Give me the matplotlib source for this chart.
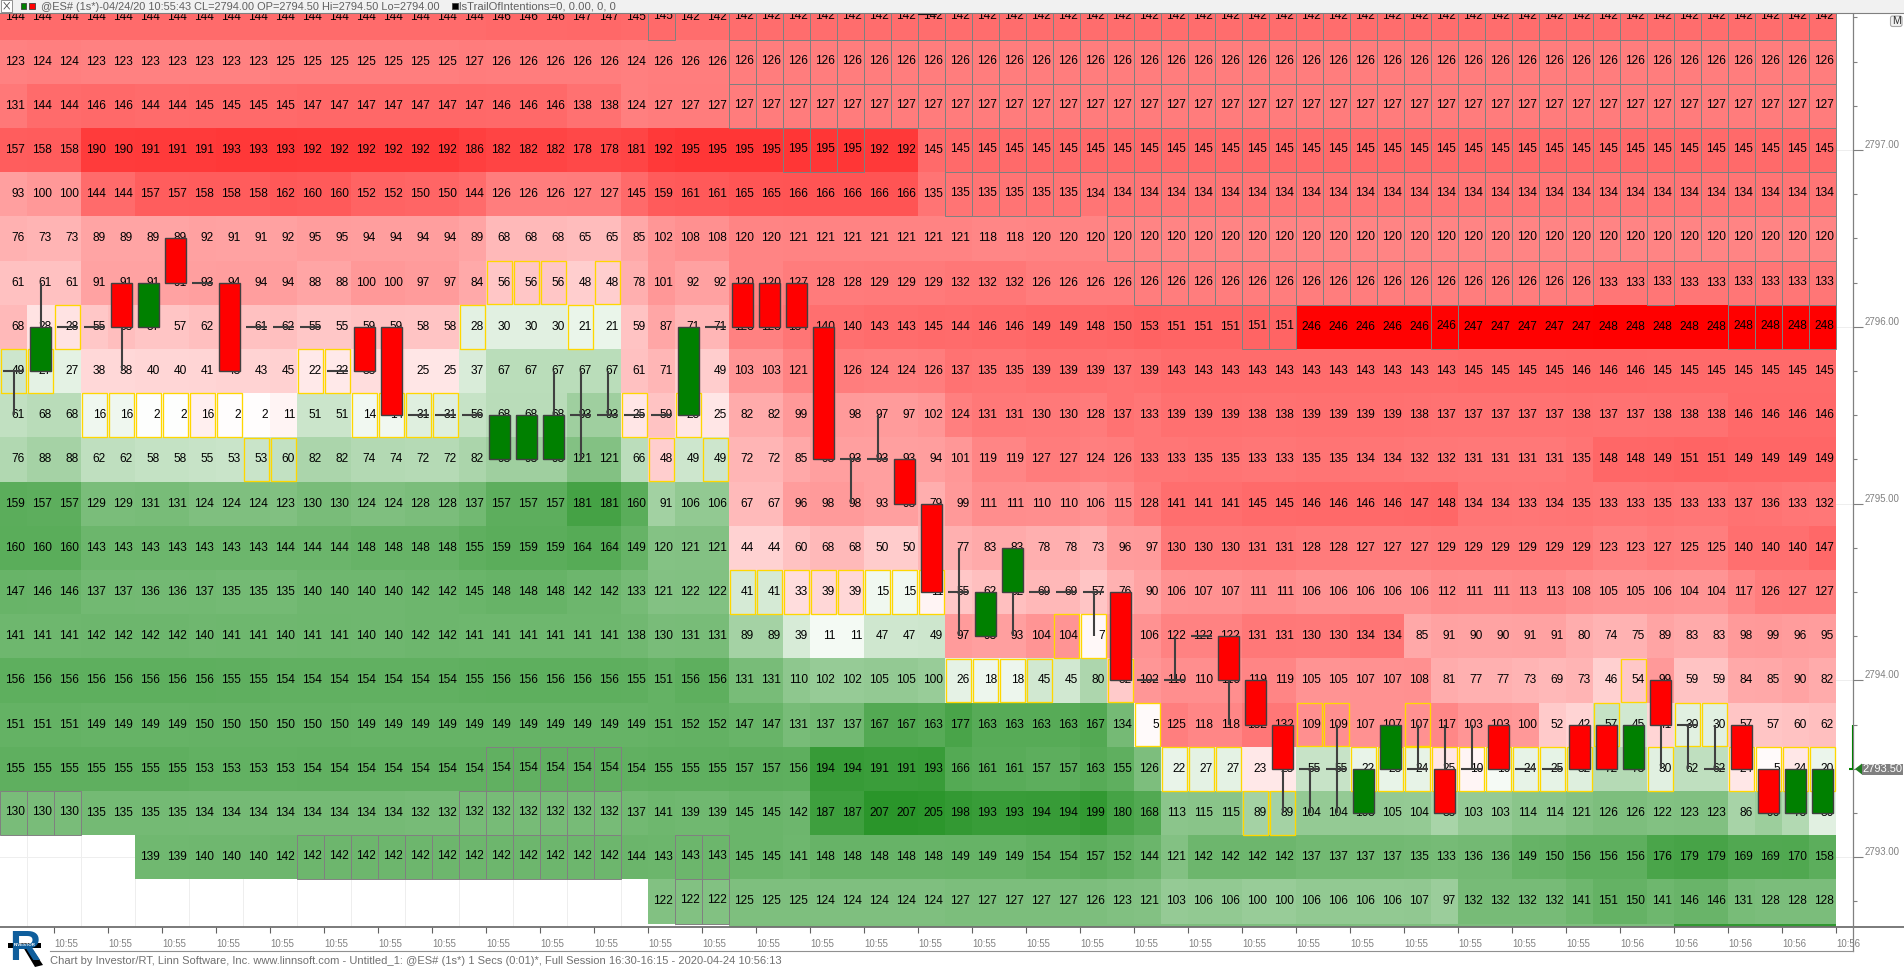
import matplotlib
matplotlib.use("Agg")
import matplotlib.pyplot as plt
from matplotlib.colors import LinearSegmentedColormap
from matplotlib.patches import Rectangle, Polygon, FancyBboxPatch
import numpy as np

n = np.nan

# volume per price level, top row is 2797.75, one row per 0.25
row00 = [144,144,144,144,144,144,144,144,144,144,144,144,144,144,144,144,144,144,146,146,146,147,147,145,
         145,142,142,142,142,142,142,142,142,142,142,142,142,142,142,142,142,142,142,142,142,142,142,
         142,142,142,142,142,142,142,142,142,142,142,142,142,142,142,142,142,142,142,142,142]
row01 = [123,124,124,123,123,123,123,123,123,123,125,125,125,125,125,125,125,127,126,126,126,126,126,124,
         126,126,126,126,126,126,126,126,126,126,126,126,126,126,126,126,126,126,126,126,126,126,126,
         126,126,126,126,126,126,126,126,126,126,126,126,126,126,126,126,126,126,126,126,126]
row02 = [131,144,144,146,146,144,144,145,145,145,145,147,147,147,147,147,147,147,146,146,146,138,138,124,
         127,127,127,127,127,127,127,127,127,127,127,127,127,127,127,127,127,127,127,127,127,127,127,
         127,127,127,127,127,127,127,127,127,127,127,127,127,127,127,127,127,127,127,127,127]
row03 = [157,158,158,190,190,191,191,191,193,193,193,192,192,192,192,192,192,186,182,182,182,178,178,181,
         192,195,195,195,195,195,195,195,192,192,145,145,145,145,145,145,145,145,145,145,145,145,145,
         145,145,145,145,145,145,145,145,145,145,145,145,145,145,145,145,145,145,145,145,145]
row04 = [93,100,100,144,144,157,157,158,158,158,162,160,160,152,152,150,150,144,126,126,126,127,127,145,
         159,161,161,165,165,166,166,166,166,166,135,135,135,135,135,135,134,134,134,134,134,134,134,
         134,134,134,134,134,134,134,134,134,134,134,134,134,134,134,134,134,134,134,134,134]
row05 = [76,73,73,89,89,89,89,92,91,91,92,95,95,94,94,94,94,89,68,68,68,65,65,85,
         102,108,108,120,120,121,121,121,121,121,121,121,118,118,120,120,120,120,120,120,120,120,120,
         120,120,120,120,120,120,120,120,120,120,120,120,120,120,120,120,120,120,120,120,120]
row06 = [61,61,61,91,91,91,91,93,94,94,94,88,88,100,100,97,97,84,56,56,56,48,48,78,
         101,92,92,120,120,127,128,128,129,129,129,132,132,132,126,126,126,126,126,126,126,126,126,
         126,126,126,126,126,126,126,126,126,126,126,126,133,133,133,133,133,133,133,133,133]
row07 = [68,28,28,55,63,57,57,62,62,61,62,55,55,59,59,58,58,28,30,30,30,21,21,59,
         87,71,71,123,123,134,140,140,143,143,145,144,146,146,149,149,148,150,153,151,151,151,151,
         151,246,246,246,246,246,246,247,247,247,247,247,248,248,248,248,248,248,248,248,248]
row08 = [49,27,27,38,38,40,40,41,43,43,45,22,22,33,33,25,25,37,67,67,67,67,67,61,
         71,49,49,103,103,121,121,126,124,124,126,137,135,135,139,139,139,137,139,143,143,143,143,
         143,143,143,143,143,143,143,145,145,145,145,146,146,146,145,145,145,145,145,145,145]
row09 = [61,68,68,16,16,2,2,16,2,2,11,51,51,14,14,31,31,56,68,68,68,93,93,25,
         59,25,25,82,82,99,98,98,97,97,102,124,131,131,130,130,128,137,133,139,139,139,138,
         138,139,139,139,139,138,137,137,137,137,137,138,137,137,138,138,138,146,146,146,146]
row10 = [76,88,88,62,62,58,58,55,53,53,60,82,82,74,74,72,72,82,93,93,93,121,121,66,
         48,49,49,72,72,85,93,93,93,93,94,101,119,119,127,127,124,126,133,133,135,135,133,
         133,135,135,134,134,132,132,131,131,131,131,135,148,148,149,151,151,149,149,149,149]
row11 = [159,157,157,129,129,131,131,124,124,124,123,130,130,124,124,128,128,137,157,157,157,181,181,160,
         91,106,106,67,67,96,98,98,93,93,79,99,111,111,110,110,106,115,128,141,141,141,145,
         145,146,146,146,146,147,148,134,134,133,134,135,133,133,135,133,133,137,136,133,132]
row12 = [160,160,160,143,143,143,143,143,143,143,144,144,144,148,148,148,148,155,159,159,159,164,164,149,
         120,121,121,44,44,60,68,68,50,50,70,77,83,83,78,78,73,96,97,130,130,130,131,
         131,128,128,127,127,127,129,129,129,129,129,129,123,123,127,125,125,140,140,140,147]
row13 = [147,146,146,137,137,136,136,137,135,135,135,140,140,140,140,142,142,145,148,148,148,142,142,133,
         121,122,122,41,41,33,39,39,15,15,11,55,62,62,69,69,57,76,90,106,107,107,111,
         111,106,106,106,106,106,112,111,111,113,113,108,105,105,106,104,104,117,126,127,127]
row14 = [141,141,141,142,142,142,142,140,141,141,140,141,141,140,140,142,142,141,141,141,141,141,141,138,
         130,131,131,89,89,39,11,11,47,47,49,97,93,93,104,104,7,97,106,122,122,122,131,
         131,130,130,134,134,85,91,90,90,91,91,80,74,75,89,83,83,98,99,96,95]
row15 = [156,156,156,156,156,156,156,156,155,155,154,154,154,154,154,154,154,155,156,156,156,156,156,155,
         151,156,156,131,131,110,102,102,105,105,100,26,18,18,45,45,80,52,102,110,110,110,119,
         119,105,105,107,107,108,81,77,77,73,69,73,46,54,99,59,59,84,85,90,82]
row16 = [151,151,151,149,149,149,149,150,150,150,150,150,150,149,149,149,149,149,149,149,149,149,149,149,
         151,152,152,147,147,131,137,137,167,167,163,177,163,163,163,163,167,134,5,125,118,118,132,
         132,109,109,107,107,107,117,103,103,100,52,42,57,45,41,30,30,57,57,60,62]
row17 = [155,155,155,155,155,155,155,153,153,153,153,154,154,154,154,154,154,154,154,154,154,154,154,154,
         155,155,155,157,157,156,194,194,191,191,193,166,161,161,157,157,163,155,126,22,27,27,23,
         23,55,55,22,23,24,25,10,10,24,25,32,72,73,30,62,62,24,5,24,20]
row18 = [130,130,130,135,135,135,135,134,134,134,134,134,134,134,134,132,132,132,132,132,132,132,132,137,
         141,139,139,145,145,142,187,187,207,207,205,198,193,193,194,194,199,180,168,113,115,115,89,
         89,104,104,105,105,104,85,103,103,114,114,121,126,126,122,123,123,86,96,75,30]
row19 = [n,n,n,n,n,139,139,140,140,140,142,142,142,142,142,142,142,142,142,142,142,142,142,144,
         143,143,143,145,145,141,148,148,148,148,148,149,149,149,154,154,157,152,144,121,142,142,142,
         142,137,137,137,137,135,133,136,136,149,150,156,156,156,176,179,179,169,169,170,158]
row20 = [n,n,n,n,n,n,n,n,n,n,n,n,n,n,n,n,n,n,n,n,n,n,n,n,
         122,122,122,125,125,125,124,124,124,124,124,127,127,127,127,127,126,123,121,103,106,106,100,
         100,106,106,106,106,107,97,132,132,132,132,141,151,150,141,146,146,131,128,128,128]
# next level down, only a sliver of it is on screen so no numbers are drawn
row21 = [n,n,n,n,n,n,n,n,n,n,n,n,n,n,n,n,n,n,n,n,n,n,n,n,
         n,n,n,126,126,126,126,126,126,126,126,126,126,126,126,126,126,126,126,126,126,126,126,
         126,126,126,126,126,126,126,126,126,126,126,126,126,126,126,200,200,200,200,200,200]

# first row in each column that is on the bid (green) side
first_bid_row = [8,8,8,9,9,9,9,10,10,10,10,9,9,9,9,9,9,7,7,7,7,7,7,10,
                 11,10,10,13,13,14,14,14,13,13,14,15,15,15,15,15,15,16,17,17,17,17,18,
                 18,17,17,17,17,17,18,18,17,17,17,17,16,16,17,16,16,18,18,18,17]

# 1 sec bars, price minus 2700
bar_open = [95.75,95.75,96.00,96.00,96.25,96.00,96.50,96.25,96.25,96.00,96.00,96.00,95.75,96.00,96.00,95.50,95.50,95.50,
            95.25,95.25,95.25,95.50,95.50,95.50,95.50,95.50,96.00,96.25,96.25,96.25,96.00,95.25,95.25,95.25,95.00,
            94.50,94.25,94.50,94.50,94.50,94.50,94.50,94.00,94.00,94.25,94.25,94.00,93.75,93.50,93.50,93.25,93.50,
            93.50,93.50,93.50,93.75,93.50,93.50,93.75,93.75,93.50,94.00,93.75,93.50,93.75,93.50,93.25,93.25]
bar_close = [95.75,96.00,96.00,96.00,96.00,96.25,96.25,96.25,95.75,96.00,96.00,96.00,95.75,95.75,95.50,95.50,95.50,95.50,
             95.50,95.50,95.50,95.50,95.50,95.50,95.50,96.00,96.00,96.00,96.00,96.00,95.25,95.25,95.25,95.00,94.50,
             94.50,94.50,94.75,94.50,94.50,94.50,94.00,94.00,94.00,94.25,94.00,93.75,93.50,93.50,93.50,93.50,93.75,
             93.50,93.25,93.50,93.50,93.50,93.50,93.50,93.50,93.75,93.75,93.75,93.50,93.50,93.25,93.50,93.50]
bar_high = [95.75,96.25,96.00,96.00,96.25,96.25,96.50,96.25,96.25,96.00,96.00,96.00,95.75,96.00,96.00,95.50,95.50,95.50,
            95.50,95.50,95.75,95.75,95.75,95.50,95.50,96.00,96.00,96.25,96.25,96.25,96.00,95.25,95.50,95.25,95.00,
            94.75,94.50,94.75,94.50,94.50,94.50,94.50,94.00,94.25,94.25,94.25,94.00,93.75,93.50,93.75,93.50,93.75,
            93.75,93.75,93.75,93.75,93.50,93.50,93.75,93.75,93.75,94.00,93.75,93.75,93.75,93.50,93.50,93.50]
bar_low = [95.50,95.75,96.00,96.00,95.75,96.00,96.25,96.25,95.75,96.00,96.00,96.00,95.75,95.75,95.50,95.50,95.50,95.50,
           95.25,95.25,95.25,95.25,95.50,95.50,95.50,95.50,96.00,96.00,96.00,96.00,95.25,95.00,95.25,95.00,94.50,
           94.25,94.25,94.25,94.50,94.50,94.25,94.00,94.00,94.00,94.25,93.75,93.75,93.25,93.25,93.25,93.25,93.50,
           93.50,93.25,93.50,93.50,93.50,93.50,93.50,93.50,93.50,93.50,93.50,93.50,93.50,93.25,93.25,93.25]

# the bar still forming, right of the last column
last_high = 93.75
last_close = 93.50
top_dash_col = 34
top_dash_price = 97.77

# (row, first col, last col)
grey_boxes = [(0,24,24),(0,27,67),(1,27,67),(2,27,67),(3,29,31),(3,35,67),(4,35,39),(4,41,67),(5,41,67),
              (6,42,58),(6,61,61),(6,64,67),(7,46,47),(7,53,53),(7,64,67),(17,18,22),(18,0,2),(18,17,22),
              (19,11,22),(19,25,26),(20,25,26)]
yellow_boxes = [(6,18,20),(6,22,22),(7,2,2),(7,17,17),(7,21,21),(8,0,1),(8,11,12),(9,3,8),(9,13,16),(9,23,23),
                (9,25,25),(10,9,10),(10,24,24),(10,26,26),(13,27,34),(14,39,40),(15,35,38),(15,41,41),(15,60,60),
                (16,42,42),(16,48,49),(16,52,52),(16,59,59),(16,62,63),(17,43,45),(17,50,58),(17,61,61),(17,64,67),
                (18,46,47)]

tick_labels = ["10:55","10:55","10:55","10:55","10:55","10:55","10:55","10:55","10:55","10:55","10:55","10:55",
               "10:55","10:55","10:55","10:55","10:55","10:55","10:55","10:55","10:55","10:55","10:55","10:55",
               "10:55","10:55","10:55","10:55","10:55","10:56","10:56","10:56","10:56","10:56"]
price_labels = ["2797.00","2796.00","2795.00","2794.00","2793.00"]

title_text = "@ES# (1s*)-04/24/20 10:55:43 CL=2794.00 OP=2794.50 Hi=2794.50 Lo=2794.00"
study_text = "lsTrailOfIntentions=0, 0.00, 0, 0"
footer_text = ("Chart by Investor/RT, Linn Software, Inc. www.linnsoft.com - Untitled_1: @ES# (1s*) 1 Secs (0:01)*, "
               "Full Session 16:30-16:15 - 2020-04-24 10:56:13")

plt.rcParams['font.family'] = ['Liberation Sans', 'DejaVu Sans']

W, H = 1904, 968
COL_W = 27.0
PX_PER_PT = 176.8   # pixels per one point of price
AX_TOP, AX_BOT, AX_RIGHT = 13.0, 926.5, 1853.0

rows = [row00,row01,row02,row03,row04,row05,row06,row07,row08,row09,row10,
        row11,row12,row13,row14,row15,row16,row17,row18,row19,row20,row21]
vol = np.array(rows, dtype=float)
n_rows, n_cols = vol.shape
row_price = 97.75 - 0.25 * np.arange(n_rows)
y_edges = 97.875 - 0.25 * np.arange(n_rows + 1)
x_edges = np.arange(n_cols + 1)

is_bid = np.array([[r >= first_bid_row[c] for c in range(n_cols)] for r in range(n_rows)])

fig = plt.figure(figsize=(W / 100, H / 100), dpi=100, facecolor="white")
ax = fig.add_axes([0, (H - AX_BOT) / H, AX_RIGHT / W, (AX_BOT - AX_TOP) / H])
ax.set_xlim(0, AX_RIGHT / COL_W)
ax.set_ylim(97 - (AX_BOT - 150) / PX_PER_PT, 97 + (150 - AX_TOP) / PX_PER_PT)
ax.set_axisbelow(True)

# heat map, ask side red, bid side green
ask_cmap = LinearSegmentedColormap.from_list("ask", ["#FFFFFF", "#FF0000"])
bid_cmap = LinearSegmentedColormap.from_list("bid", ["#FFFFFF", "#008000"])
ask_vol = np.ma.masked_where(is_bid | np.isnan(vol), vol)
bid_vol = np.ma.masked_where(~is_bid | np.isnan(vol), vol)
ax.pcolormesh(x_edges, y_edges, ask_vol, cmap=ask_cmap, vmin=0, vmax=248, antialiased=False, linewidth=0, zorder=1)
ax.pcolormesh(x_edges, y_edges, bid_vol, cmap=bid_cmap, vmin=0, vmax=248, antialiased=False, linewidth=0, zorder=1)

# boxes
boxed = set()
for r, c0, c1 in grey_boxes:
    for c in range(c0, c1 + 1):
        boxed.add((r, c))
        ax.add_patch(Rectangle((c, y_edges[r + 1]), 1, 0.25, fill=False, edgecolor="#808080", lw=0.7, zorder=2))
for r, c0, c1 in yellow_boxes:
    for c in range(c0, c1 + 1):
        ax.add_patch(Rectangle((c + 0.02, y_edges[r + 1] + 0.002), 0.96, 0.246, fill=False, edgecolor="#FFD700",
                               lw=0.95, zorder=2.5))

# cell numbers
for r in range(n_rows - 1):
    for c in range(n_cols):
        if np.isnan(vol[r, c]):
            continue
        lift = 1.0 / PX_PER_PT if (r, c) in boxed else 0
        ax.text(c + 1 - 2 / COL_W, row_price[r] + lift, str(int(vol[r, c])), ha="right", va="center",
                fontsize=8.6, color="#000000", zorder=3)

# bars
centers = np.arange(n_cols) + 0.5
bar_w = 20.7 / COL_W
edge = "#404040"
ax.vlines(centers, bar_low, bar_high, color=edge, lw=1.5, zorder=4)
for c in range(n_cols):
    o, cl = bar_open[c], bar_close[c]
    if o == cl:
        ax.hlines(o, centers[c] - bar_w / 2, centers[c] + bar_w / 2, color=edge, lw=1.5, zorder=4)
    else:
        col = "#008000" if cl > o else "#FF0000"
        ax.bar(centers[c], abs(cl - o), bottom=min(o, cl), width=bar_w, color=col, edgecolor=edge, lw=1.0, zorder=5)
ax.hlines(top_dash_price, top_dash_col, top_dash_col + 0.72, color="#101010", lw=1.5, zorder=5)

# forming bar
ax.vlines(68.62, last_close, last_high, color="#008000", lw=1.5, zorder=4)
ax.hlines(last_close, 68.48, 68.62, color="#008000", lw=1.5, zorder=4)

# axes
ax.set_xticks(np.arange(2, 70, 2), tick_labels, ha="left", fontsize=6.9, color="#808080")
ax.set_xticks(np.arange(1, 68, 2), minor=True)
ax.tick_params(axis="x", which="major", length=4.5, width=0.8, color="#606060", pad=4.5)
ax.tick_params(axis="x", which="minor", length=0)
ax.grid(axis="x", which="minor", color="#EEEEEE", lw=0.7)
ax.yaxis.tick_right()
ax.set_yticks([97, 96, 95, 94, 93], price_labels, fontsize=6.9, color="#808080", va="bottom")
ax.set_yticks(row_price[:-1], minor=True)
ax.tick_params(axis="y", which="major", length=7.4, width=0.8, color="#808080", pad=0.8)
ax.tick_params(axis="y", which="minor", length=3, width=0.8, color="#808080")
ax.grid(axis="y", which="major", color="#EEEEEE", lw=0.7)
for s in ["top", "left", "bottom"]:
    ax.spines[s].set_visible(False)
ax.spines["right"].set_color("#808080")
ax.spines["right"].set_linewidth(0.9)

# window chrome on a pixel overlay
ui = fig.add_axes([0, 0, 1, 1], zorder=10)
ui.set_xlim(0, W)
ui.set_ylim(H, 0)
ui.axis("off")

ui.add_patch(Rectangle((0, 0), W, 13, facecolor="#F1F1F1", edgecolor="none"))
ui.plot([0, W], [13.3, 13.3], color="#808080", lw=0.8)
ui.add_patch(Rectangle((1, 0), 11, 11.5, facecolor="white", edgecolor="#909090", lw=0.7))
ui.plot([4, 9.5], [2.5, 9], color="#505050", lw=0.6)
ui.plot([4, 9.5], [9, 2.5], color="#505050", lw=0.6)
ui.add_patch(Rectangle((20.5, 3), 5.5, 6, facecolor="#008000", edgecolor="#404040", lw=0.6))
ui.add_patch(Rectangle((29, 3), 5.5, 6, facecolor="#FF0000", edgecolor="#404040", lw=0.6))
ui.add_patch(Rectangle((452, 3), 5.5, 6, facecolor="#000000", edgecolor="#404040", lw=0.6))
ui.text(41, 6.8, title_text, fontsize=7.9, color="#606060", va="center", ha="left")
ui.text(459, 6.8, study_text, fontsize=8.1, color="#606060", va="center", ha="left")

ui.add_patch(FancyBboxPatch((1890.5, 16), 11.5, 10.5, boxstyle="round,pad=0,rounding_size=2", facecolor="#F0F0F0",
                            edgecolor="#A8A8A8", lw=0.8))
ui.text(1896.3, 21.3, "M", fontsize=7.5, color="#303030", ha="center", va="center")

# price flag
ui.add_patch(Polygon([[1855, 769], [1862, 763.5], [1862, 774.5]], facecolor="#1F7A1F", edgecolor="none"))
ui.add_patch(Rectangle((1862, 764), 41, 10.5, facecolor="#808080", edgecolor="none"))
ui.text(1882.5, 769.2, "2793.50", fontsize=8.0, color="white", ha="center", va="center")

# bottom rules and footer
ui.plot([0, W], [926.8, 926.8], color="#707070", lw=1.3)
ui.plot([AX_RIGHT, AX_RIGHT], [926, 951], color="#808080", lw=0.9)
ui.plot([50, AX_RIGHT], [951.3, 951.3], color="#909090", lw=0.8)
ui.text(50, 961, footer_text, fontsize=8.0, color="#707070", ha="left", va="center")

# logo
ui.text(9.5, 960, "R", fontsize=31, fontweight="bold", color="#0F5E9C", ha="left", va="baseline")
ui.add_patch(Polygon([[23, 947], [31, 947], [43, 965], [35, 967]], facecolor="#000000", edgecolor="none"))
ui.add_patch(Rectangle((8, 943), 33, 5, facecolor="#000000", edgecolor="none"))
ui.text(24.5, 945.5, "INVESTOR", fontsize=3.2, color="white", ha="center", va="center", fontweight="bold")

fig.savefig("out.png", dpi=100)
